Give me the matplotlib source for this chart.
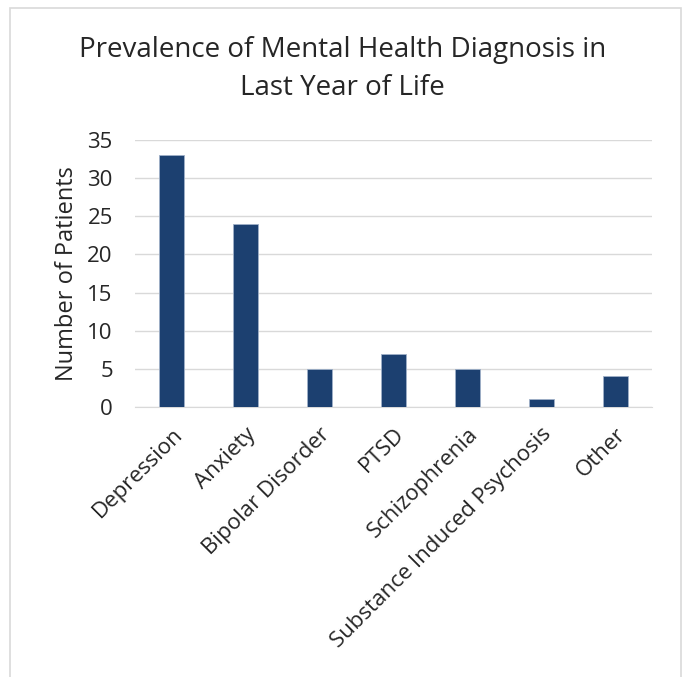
import matplotlib.pyplot as plt
from matplotlib.patches import Rectangle

categories = ["Depression", "Anxiety", "Bipolar Disorder", "PTSD",
              "Schizophrenia", "Substance Induced Psychosis", "Other"]
patients = [33, 24, 5, 7, 5, 1, 4]
yticks = [0, 5, 10, 15, 20, 25, 30, 35]

plt.rcParams['font.family'] = ['Open Sans', 'DejaVu Sans']

fig = plt.figure(figsize=(6.85, 6.77), dpi=100)
fig.patch.set_facecolor('white')

# chart border
fig.patches.append(Rectangle((10 / 685, -0.01), 671 / 685, 1 - 8 / 677 + 0.01,
                             transform=fig.transFigure, fill=False,
                             edgecolor='#d9d9d9', linewidth=1.2))

ax = fig.add_axes([135 / 685, 1 - 407 / 677, 517 / 685, 267 / 677])
x = range(len(categories))
ax.bar(x, patients, width=0.34, color='#1c4070', edgecolor='#9fb0c8',
       linewidth=0.6, zorder=3)

ax.set_xlim(-0.5, len(categories) - 0.5)
ax.set_ylim(0, 35)
ax.set_yticks(yticks)
ax.set_yticklabels([str(v) for v in yticks], fontsize=16, color='#262626')
ax.set_xticks(list(x))
ax.set_xticklabels(categories, rotation=45, ha='right', rotation_mode='anchor',
                   fontsize=16, color='#262626')
ax.tick_params(axis='y', length=0, pad=16)
ax.tick_params(axis='x', length=0, pad=12)
ax.grid(axis='y', color='#d9d9d9', linewidth=1, zorder=0)
for s in ['top', 'right', 'left']:
    ax.spines[s].set_visible(False)
ax.spines['bottom'].set_color('#d9d9d9')
ax.set_ylabel("Number of Patients", fontsize=17, color='#262626', labelpad=6)

fig.text(0.5, 1 - 50 / 677, "Prevalence of Mental Health Diagnosis in",
         ha='center', va='center', fontsize=20, color='#262626')
fig.text(0.5, 1 - 88 / 677, "Last Year of Life",
         ha='center', va='center', fontsize=20, color='#262626')

fig.savefig("out.png", dpi=100, facecolor='white')
